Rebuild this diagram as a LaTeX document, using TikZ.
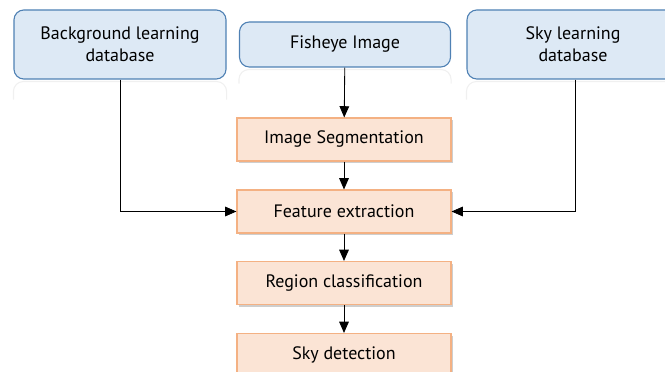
\documentclass[tikz,border=0pt]{standalone}
\usepackage{fontspec}
\setmainfont{PT Sans}
\usetikzlibrary{positioning,arrows.meta,shadows}
\definecolor{dbfill}{HTML}{DDE9F5}
\definecolor{dbline}{HTML}{4F81B4}
\definecolor{stepfill}{HTML}{FBE4D5}
\definecolor{stepline}{HTML}{F4B183}
\tikzset{
  flowarrow/.style={-{Triangle[length=2.8mm,width=2.4mm]}, semithick},
  dbnode/.style={draw=dbline, thick, rounded corners=7pt, fill=dbfill, minimum width=5.3cm, minimum height=1.725cm, align=center},
  srcnode/.style={draw=dbline, thick, rounded corners=7pt, fill=dbfill, minimum width=5.275cm, minimum height=1.125cm, align=center},
  stepbox/.style={draw=stepline, thick, fill=stepfill, minimum width=5.35cm, minimum height=1.075cm, align=center,
    drop shadow={shadow xshift=0.4mm, shadow yshift=-0.6mm, fill=gray!70, opacity=0.55}},
  mirror/.style={draw=gray!12, thick, rounded corners=7pt}
}

\begin{document}
\begin{tikzpicture}[every node/.style={font=\fontsize{12.8}{15.5}\selectfont}]
  \useasboundingbox (0,0) rectangle (16.625,-9.3);
  % inputs
  \node[dbnode] (bgdb) at (3.0,-1.1125) {Background learning\\database};
  \node[srcnode] (fisheye) at (8.625,-1.1125) {Fisheye Image};
  \node[dbnode] (skydb) at (14.325,-1.1125) {Sky learning\\database};
  % faint reflections
  \draw[mirror] ([yshift=-0.5cm]bgdb.south west) -- ([yshift=-0.05cm]bgdb.south west) -- ([yshift=-0.05cm]bgdb.south east) -- ([yshift=-0.5cm]bgdb.south east);
  \draw[mirror] ([yshift=-0.4cm]fisheye.south west) -- ([yshift=-0.05cm]fisheye.south west) -- ([yshift=-0.05cm]fisheye.south east) -- ([yshift=-0.4cm]fisheye.south east);
  \draw[mirror] ([yshift=-0.5cm]skydb.south west) -- ([yshift=-0.05cm]skydb.south west) -- ([yshift=-0.05cm]skydb.south east) -- ([yshift=-0.5cm]skydb.south east);
  % processing steps
  \node[stepbox] (seg) at (8.6,-3.4875) {Image Segmentation};
  \node[stepbox] (feat) at (8.6,-5.2875) {Feature extraction};
  \node[stepbox] (cls) at (8.6,-7.075) {Region classification};
  \node[stepbox] (det) at (8.6,-8.875) {Sky detection};
  % connectors
  \draw[flowarrow] (fisheye) -- (seg);
  \draw[flowarrow] (seg) -- (feat);
  \draw[flowarrow] (feat) -- (cls);
  \draw[flowarrow] (cls) -- (det);
  \draw[flowarrow] (bgdb.south) |- (feat.west);
  \draw[flowarrow] ([xshift=0.05cm]skydb.south) |- (feat.east);
\end{tikzpicture}
\end{document}
